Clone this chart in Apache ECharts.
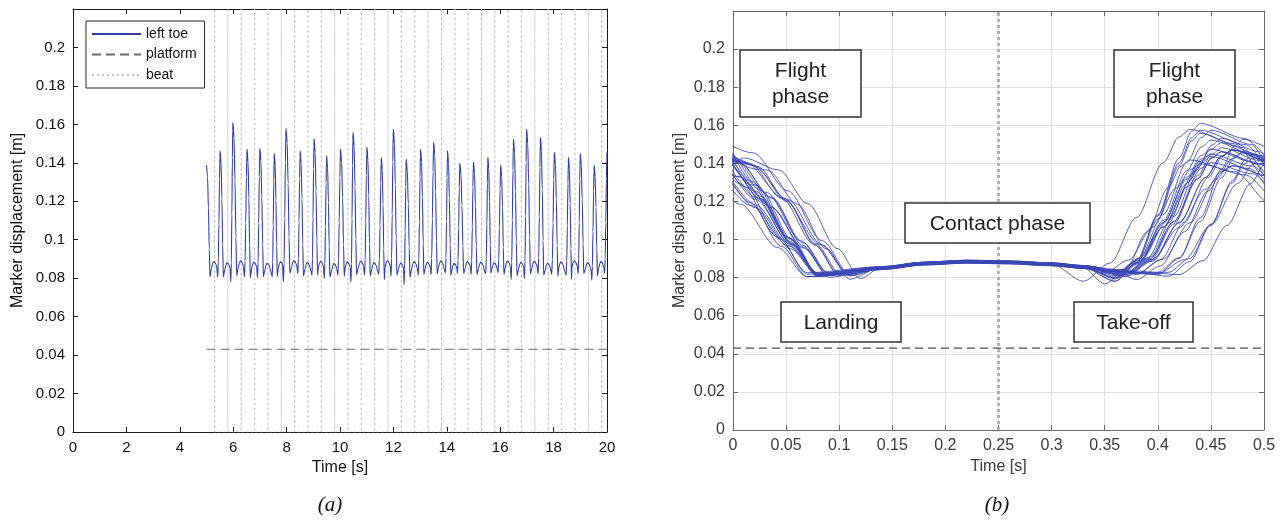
<!DOCTYPE html>
<html>
<head>
<meta charset="utf-8">
<script src="https://cdn.jsdelivr.net/npm/echarts@6/dist/echarts.min.js"></script>
<style>
  html, body { margin: 0; padding: 0; background: #fff; }
  #chart { width: 1283px; height: 521px; }
</style>
</head>
<body>
<div id="chart"></div>
<script>
// ---- recorded left-toe marker trajectory (seconds, metres) ----
// flight-phase apex of every jump
const peakTimes = [5.00, 5.51, 5.99, 6.52, 7.00, 7.54, 7.98, 8.51, 9.03, 9.50, 10.02,
  10.49, 11.01, 11.55, 12.00, 12.48, 13.02, 13.51, 14.03, 14.49, 15.00, 15.54,
  16.02, 16.50, 16.99, 17.51, 18.03, 18.56, 19.00, 19.52, 20.00];
const peakValues = [0.1387, 0.1461, 0.1610, 0.1472, 0.1475, 0.1448, 0.1578, 0.1461,
  0.1526, 0.1436, 0.1470, 0.1558, 0.1482, 0.1427, 0.1574, 0.1418, 0.1470, 0.1508,
  0.1463, 0.1397, 0.1404, 0.1429, 0.1387, 0.1522, 0.1574, 0.1532, 0.1455, 0.1429,
  0.1448, 0.1387, 0.1455];
// touchdown on the platform after each apex
const landingTimes = [5.13, 5.63, 6.13, 6.64, 7.13, 7.65, 8.12, 8.63, 9.16, 9.62,
  10.16, 10.62, 11.13, 11.66, 12.13, 12.62, 13.14, 13.64, 14.15, 14.63, 15.13,
  15.65, 16.14, 16.63, 17.13, 17.63, 18.16, 18.67, 19.13, 19.64];
const landingValues = [0.0807, 0.0807, 0.0812, 0.0802, 0.0807, 0.0810, 0.0826,
  0.0812, 0.0816, 0.0805, 0.0810, 0.0818, 0.0812, 0.0792, 0.0816, 0.0805, 0.0820,
  0.0822, 0.0814, 0.0824, 0.0818, 0.0826, 0.0820, 0.0812, 0.0822, 0.0816, 0.0810,
  0.0795, 0.0824, 0.0812];
// lowest point just before each take-off
const dipTimes = [5.42, 5.91, 6.42, 6.91, 7.46, 7.88, 8.42, 8.95, 9.41, 9.92, 10.41,
  10.92, 11.45, 11.91, 12.40, 12.93, 13.41, 13.95, 14.40, 14.91, 15.46, 15.92,
  16.41, 16.91, 17.42, 17.93, 18.47, 18.92, 19.43, 19.91];
const dipValues = [0.0807, 0.0781, 0.0807, 0.0802, 0.0807, 0.0781, 0.0824, 0.0816,
  0.0798, 0.0816, 0.0781, 0.0816, 0.0821, 0.0810, 0.0767, 0.0816, 0.0819, 0.0828,
  0.0824, 0.0819, 0.0828, 0.0828, 0.0793, 0.0798, 0.0824, 0.0821, 0.0816, 0.0824,
  0.0790, 0.0824];
// per-jump offset of the contact plateau
const contactShift = [0.0003, -0.0004, 0.0006, 0, -0.0006, 0.0002, 0.0008, -0.0002,
  0.0004, -0.0008, 0.0001, 0.0005, -0.0003, 0.0007, -0.0005, 0.0002, -0.0001,
  0.0006, -0.0007, 0.0003, 0, -0.0004, 0.0005, -0.0002, 0.0004, -0.0006, 0.0001,
  0.0007, -0.0003, 0.0002];
// contact plateau relative to the beat (s) and its height (m)
const contactOffsets = [-0.11, -0.07, -0.03, 0.01, 0.05, 0.08, 0.11, 0.14];
const contactValues = [0.0850, 0.0874, 0.0884, 0.0880, 0.0870, 0.0856, 0.0838, 0.0825];
// flight arcs: fraction of the phase duration -> fraction of the height change
const descentFraction = [0.3, 0.55, 0.8];
const descentDrop = [0.10, 0.38, 0.75];
const riseFraction = [0.25, 0.5, 0.75, 0.9];
const riseLift = [0.12, 0.42, 0.78, 0.95];
// metronome beats
const beatTimes = [5.30, 5.80, 6.30, 6.80, 7.30, 7.80, 8.30, 8.80, 9.30, 9.80, 10.30,
  10.80, 11.30, 11.80, 12.30, 12.80, 13.30, 13.80, 14.30, 14.80, 15.30, 15.80,
  16.30, 16.80, 17.30, 17.80, 18.30, 18.80, 19.30, 19.80];
const platformLevel = 0.043;
const platformSpan = [5.0, 20.0];
const beatWindow = [0, 0.5];      // one beat period around each beat
const beatInstant = 0.25;         // beat position within that window

// ---- axis ranges ----
const timeRange = [0, 20];
const timeStep = 2;
const heightRange = [0, 0.22];
const heightStep = 0.02;
const cycleStep = 0.05;

// ---- assemble the continuous trajectory ----
const toe = [];
for (let k = 0; k < landingTimes.length; k++) {
  const P = peakTimes[k], pv = peakValues[k];
  const L = landingTimes[k], lv = landingValues[k];
  const D = dipTimes[k], dv = dipValues[k];
  const N = peakTimes[k + 1], nv = peakValues[k + 1];
  toe.push([P, pv]);
  descentFraction.forEach((f, i) => toe.push([P + (L - P) * f, pv - (pv - lv) * descentDrop[i]]));
  toe.push([L, lv]);
  contactOffsets.forEach((o, j) => {
    const t = beatTimes[k] + o;
    if (t > L + 0.015 && t < D - 0.015) toe.push([t, contactValues[j] + contactShift[k]]);
  });
  toe.push([D, dv]);
  riseFraction.forEach((f, i) => toe.push([D + (N - D) * f, dv + (nv - dv) * riseLift[i]]));
}
toe.push([peakTimes[peakTimes.length - 1], peakValues[peakValues.length - 1]]);

// beat markers as one vertical stroke per beat
const beatPath = [];
beatTimes.forEach(b => {
  beatPath.push([b, heightRange[0]], [b, heightRange[1]], [b, heightRange[0]]);
});

// the same trajectory cut into one window per beat
const halfWin = (beatWindow[1] - beatWindow[0]) / 2;
const cycles = beatTimes.map(b => toe
  .filter(p => p[0] >= b - halfWin - 0.2 && p[0] <= b + halfWin + 0.2)
  .map(p => [p[0] - b + beatInstant, p[1]]));

// ---- styling ----
const SANS = "'Liberation Sans', Arial, Helvetica, sans-serif";
const SERIF = "'Liberation Serif', 'Times New Roman', serif";
const fmt = v => (v > heightRange[1] - heightStep / 2 ? '' : String(Math.round(v * 100) / 100));
const fmtX = v => String(Math.round(v * 100) / 100);

function frameAxis(base, extra) {
  return Object.assign({
    type: 'value',
    axisLine: { show: true, onZero: false, lineStyle: { color: base.color, width: 1 } },
    axisTick: { show: true, inside: true, length: 5, lineStyle: { color: base.color } },
    axisLabel: { show: false },
    splitLine: { show: false }
  }, extra);
}

const leftInk = { color: '#1a1a1a' };
const rightInk = { color: '#6a6a6a' };

const xAxes = [
  frameAxis(leftInk, {
    gridIndex: 0, position: 'bottom', min: timeRange[0], max: timeRange[1], interval: timeStep,
    axisLabel: { show: true, margin: 8, fontFamily: SANS, fontSize: 15, color: '#111' },
    name: 'Time [s]', nameLocation: 'middle', nameGap: 26,
    nameTextStyle: { fontFamily: SANS, fontSize: 16, color: '#111' }
  }),
  frameAxis(leftInk, { gridIndex: 0, position: 'top', min: timeRange[0], max: timeRange[1], interval: timeStep }),
  frameAxis(rightInk, {
    gridIndex: 1, position: 'bottom', min: beatWindow[0], max: beatWindow[1], interval: cycleStep,
    axisLabel: { show: true, margin: 8, fontFamily: SANS, fontSize: 16, color: '#3a3a3a', formatter: fmtX },
    splitLine: { show: true, lineStyle: { color: '#e2e2e2', width: 1 } },
    name: 'Time [s]', nameLocation: 'middle', nameGap: 28,
    nameTextStyle: { fontFamily: SANS, fontSize: 16, color: '#3a3a3a' }
  }),
  frameAxis(rightInk, { gridIndex: 1, position: 'top', min: beatWindow[0], max: beatWindow[1], interval: cycleStep })
];

const yAxes = [
  frameAxis(leftInk, {
    gridIndex: 0, position: 'left', min: heightRange[0], max: heightRange[1], interval: heightStep,
    axisLabel: { show: true, margin: 8, fontFamily: SANS, fontSize: 15, color: '#111', formatter: fmt },
    name: 'Marker displacement [m]', nameLocation: 'middle', nameGap: 47,
    nameTextStyle: { fontFamily: SANS, fontSize: 16, color: '#111' }
  }),
  frameAxis(leftInk, { gridIndex: 0, position: 'right', min: heightRange[0], max: heightRange[1], interval: heightStep }),
  frameAxis(rightInk, {
    gridIndex: 1, position: 'left', min: heightRange[0], max: heightRange[1], interval: heightStep,
    axisLabel: { show: true, margin: 8, fontFamily: SANS, fontSize: 16, color: '#3a3a3a', formatter: fmt },
    splitLine: { show: true, lineStyle: { color: '#e2e2e2', width: 1 } },
    name: 'Marker displacement [m]', nameLocation: 'middle', nameGap: 45,
    nameTextStyle: { fontFamily: SANS, fontSize: 16, color: '#3a3a3a' }
  }),
  frameAxis(rightInk, { gridIndex: 1, position: 'right', min: heightRange[0], max: heightRange[1], interval: heightStep })
];

const series = [
  {
    name: 'left toe', type: 'line', xAxisIndex: 0, yAxisIndex: 0, data: toe,
    symbol: 'none', smooth: 0.3, smoothMonotone: 'x', z: 4,
    lineStyle: { color: '#2d3f9f', width: 1.1 }, itemStyle: { color: '#2d3f9f' }
  },
  {
    name: 'platform', type: 'line', xAxisIndex: 0, yAxisIndex: 0,
    data: platformSpan.map(t => [t, platformLevel]), symbol: 'none', z: 3,
    lineStyle: { color: '#6a6a6a', width: 1.1, type: [9, 5] }, itemStyle: { color: '#6a6a6a' }
  },
  {
    name: 'beat', type: 'line', xAxisIndex: 0, yAxisIndex: 0, data: beatPath,
    symbol: 'none', z: 2,
    lineStyle: { color: '#c6c6c6', width: 1, type: [2, 3] }, itemStyle: { color: '#c6c6c6' }
  }
];

cycles.forEach((c, k) => series.push({
  name: 'cycle ' + (k + 1), type: 'line', xAxisIndex: 2, yAxisIndex: 2, data: c,
  symbol: 'none', smooth: 0.3, smoothMonotone: 'x', clip: true, silent: true, z: 3,
  lineStyle: { color: '#3b48b5', width: 1, opacity: 0.85 }
}));

series.push({
  name: 'platform level', type: 'line', xAxisIndex: 2, yAxisIndex: 2,
  data: beatWindow.map(t => [t, platformLevel]), symbol: 'none', z: 2, silent: true,
  lineStyle: { color: '#4f4f4f', width: 1.3, type: [8, 5] }
});
series.push({
  name: 'beat instant', type: 'line', xAxisIndex: 2, yAxisIndex: 2,
  data: heightRange.map(v => [beatInstant, v]), symbol: 'none', z: 2, silent: true,
  lineStyle: { color: '#b3b3b3', width: 3, type: [3, 3] }
});

// phase annotations on the cycle panel (pixel layout)
const phaseBoxes = [
  { x: 740, y: 50, w: 121, h: 67, text: 'Flight\nphase' },
  { x: 1114, y: 50, w: 121, h: 67, text: 'Flight\nphase' },
  { x: 905, y: 203, w: 185, h: 40, text: 'Contact phase' },
  { x: 781, y: 302, w: 120, h: 40, text: 'Landing' },
  { x: 1074, y: 302, w: 119, h: 40, text: 'Take-off' }
];
const graphic = [];
phaseBoxes.forEach(b => {
  graphic.push({
    type: 'rect', z: 100, shape: { x: b.x, y: b.y, width: b.w, height: b.h },
    style: { fill: '#fff', stroke: '#333', lineWidth: 1.5 }
  });
  graphic.push({
    type: 'text', z: 101, x: b.x + b.w / 2, y: b.y + b.h / 2 + 1,
    style: { text: b.text, font: '21px ' + SANS, fill: '#222', align: 'center',
             verticalAlign: 'middle', lineHeight: 26 }
  });
});
[['(a)', 330], ['(b)', 997]].forEach(([t, x]) => graphic.push({
  type: 'text', x: x, y: 505,
  style: { text: t, font: 'italic 21px ' + SERIF, fill: '#111', align: 'center', verticalAlign: 'middle' }
}));

const chart = echarts.init(document.getElementById('chart'));
chart.setOption({
  animation: false,
  backgroundColor: '#fff',
  grid: [
    { left: 73, top: 9, width: 534, height: 423 },
    { left: 733, top: 11, width: 531, height: 419 }
  ],
  legend: {
    data: ['left toe', 'platform', 'beat'],
    orient: 'vertical', left: 86, top: 21,
    itemWidth: 49, itemHeight: 14, itemGap: 6.5,
    padding: [6, 8, 6, 5],
    borderColor: '#262626', borderWidth: 1, backgroundColor: '#fff',
    selectedMode: false,
    // line samples only, no marker dot
    itemStyle: { opacity: 0 },
    textStyle: { fontFamily: SANS, fontSize: 14, color: '#111' }
  },
  xAxis: xAxes,
  yAxis: yAxes,
  series: series,
  graphic: graphic
});
</script>
</body>
</html>
